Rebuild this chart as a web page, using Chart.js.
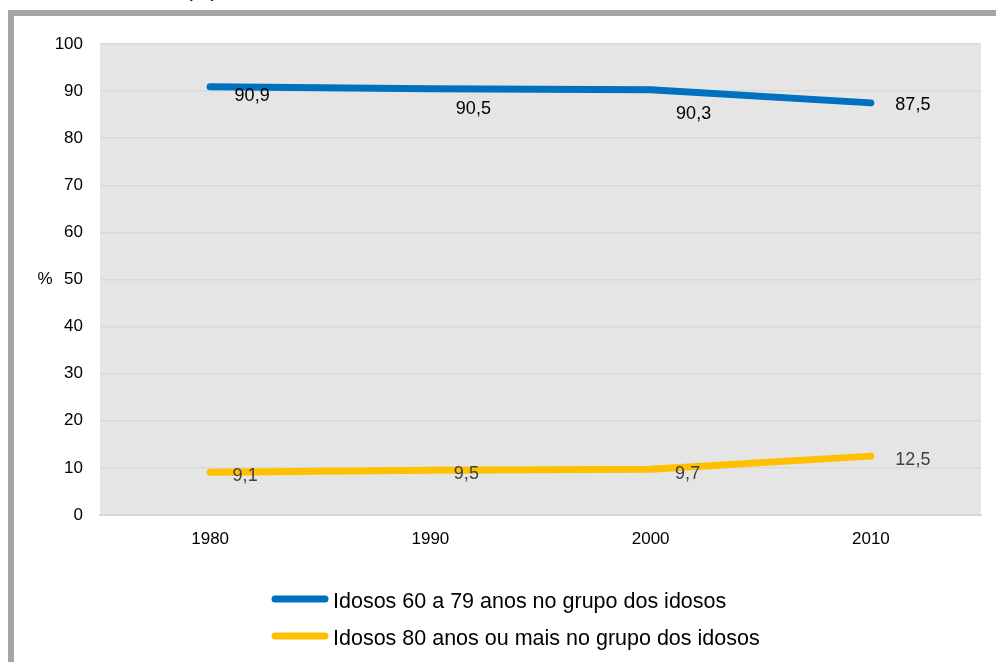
<!DOCTYPE html>
<html>
<head>
<meta charset="utf-8">
<script src="https://cdn.jsdelivr.net/npm/chart.js@4/dist/chart.umd.min.js"></script>
<style>
  html, body { margin: 0; padding: 0; background: #fff; overflow: hidden; }
  body { width: 996px; height: 662px; position: relative; font-family: "Liberation Sans", Arial, sans-serif; }
  .frame { position: absolute; left: 8px; top: 10px; width: 1000px; height: 700px;
           border-left: 6px solid #a6a6a6; border-top: 6px solid #a6a6a6; }
  .top-note { position: absolute; left: 186px; top: -21px; font-size: 20px; color: #000; }
  #chart { position: absolute; left: 0; top: 0; }
</style>
</head>
<body>
<div class="frame"></div>
<div class="top-note">(%)</div>
<canvas id="chart" width="996" height="662"></canvas>
<script>
// Participação dos grupos etários no total de idosos (%)
const years = ['1980', '1990', '2000', '2010'];
const idosos60a79 = [90.9, 90.5, 90.3, 87.5];
const idosos80mais = [9.1, 9.5, 9.7, 12.5];
const seriesNames = [
  'Idosos 60 a 79 anos no grupo dos idosos',
  'Idosos 80 anos ou mais no grupo dos idosos'
];

// deslocamento dos rótulos de valor em relação a cada ponto
const labelOffsets = [
  [[42, 9], [43, 20], [43, 24], [42, 2]],
  [[35, 4], [36, 4], [37, 5], [42, 4]]
];
const labelColors = ['#000000', '#404040'];

const fmt = v => v.toFixed(1).replace('.', ',');

const plotBg = {
  id: 'plotBg',
  beforeDraw(chart) {
    const { ctx, chartArea: a } = chart;
    ctx.save();
    ctx.fillStyle = '#e5e5e5';
    ctx.fillRect(a.left, a.top, a.right - a.left, a.bottom - a.top);
    ctx.restore();
  }
};

const valueLabels = {
  id: 'valueLabels',
  afterDatasetsDraw(chart) {
    const ctx = chart.ctx;
    ctx.save();
    ctx.font = '18px "Liberation Sans", Arial, sans-serif';
    ctx.textAlign = 'center';
    ctx.textBaseline = 'middle';
    chart.data.datasets.forEach((ds, i) => {
      ctx.fillStyle = labelColors[i];
      chart.getDatasetMeta(i).data.forEach((pt, j) => {
        const [dx, dy] = labelOffsets[i][j];
        ctx.fillText(fmt(ds.data[j]), pt.x + dx, pt.y + dy);
      });
    });
    ctx.restore();
  }
};

// legenda empilhada e o "%" do eixo
const sideText = {
  id: 'sideText',
  afterDraw(chart) {
    const { ctx, scales } = chart;
    ctx.save();
    ctx.font = '17px "Liberation Sans", Arial, sans-serif';
    ctx.fillStyle = '#000';
    ctx.textAlign = 'center';
    ctx.textBaseline = 'middle';
    ctx.fillText('%', 45, scales.y.getPixelForValue(50));

    ctx.font = '21.5px "Liberation Sans", Arial, sans-serif';
    ctx.textAlign = 'left';
    chart.data.datasets.forEach((ds, i) => {
      const y = 599 + i * 37;
      ctx.strokeStyle = ds.borderColor;
      ctx.lineWidth = 7;
      ctx.lineCap = 'round';
      ctx.beginPath();
      ctx.moveTo(275, y);
      ctx.lineTo(325, y);
      ctx.stroke();
      ctx.fillText(ds.label, 333, y + 3);
    });
    ctx.restore();
  }
};

new Chart(document.getElementById('chart'), {
  type: 'line',
  data: {
    labels: years,
    datasets: [
      { label: seriesNames[0], data: idosos60a79, borderColor: '#0070c0' },
      { label: seriesNames[1], data: idosos80mais, borderColor: '#ffc000' }
    ]
  },
  options: {
    responsive: false,
    animation: false,
    layout: { padding: { top: 44, left: 10, right: 15, bottom: 0 } },
    elements: {
      line: { borderWidth: 7, borderCapStyle: 'round', borderJoinStyle: 'round', tension: 0 },
      point: { radius: 0, hoverRadius: 0 }
    },
    plugins: {
      legend: { display: false },
      tooltip: { enabled: false }
    },
    scales: {
      x: {
        offset: true,
        grid: { display: false, drawTicks: false },
        border: { color: '#d6d6d6', width: 2 },
        ticks: { color: '#000', padding: 14, font: { size: 17, family: '"Liberation Sans", Arial, sans-serif' } },
        afterFit(s) { s.height = 147; }
      },
      y: {
        min: 0,
        max: 100,
        ticks: { stepSize: 10, color: '#000', padding: 17, font: { size: 17, family: '"Liberation Sans", Arial, sans-serif' } },
        grid: { color: '#d9d9d9', lineWidth: 1.5, drawTicks: false },
        border: { display: false },
        afterFit(s) { s.width = 90; }
      }
    }
  },
  plugins: [plotBg, valueLabels, sideText]
});
</script>
</body>
</html>
